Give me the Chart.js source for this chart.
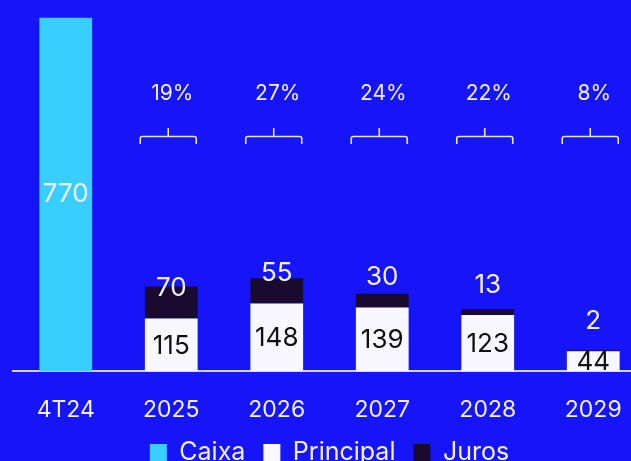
<!DOCTYPE html>
<html lang="pt">
<head>
  <meta charset="UTF-8">
  <title>Cronograma de amortização</title>
  <script src="https://cdn.jsdelivr.net/npm/chart.js"></script>
  <style>
    html, body {
      margin: 0;
      padding: 0;
      background: #1515f8;
      overflow: hidden;
    }
    .chart-wrap {
      position: relative;
      width: 646px;
      height: 494px;
    }
  </style>
</head>
<body>
  <div class="chart-wrap">
    <canvas id="debtChart"></canvas>
  </div>

  <script>
    // Dados (R$ milhões)
    const labels = ['4T24', '2025', '2026', '2027', '2028', '2029'];
    const caixa = [770, null, null, null, null, null];
    const principal = [null, 115, 148, 139, 123, 44];
    const juros = [null, 70, 55, 30, 13, 2];
    const percentuais = [null, 19, 27, 24, 22, 8];

    const FONT = 'Inter, "DejaVu Sans", sans-serif';
    const WHITE = '#f2f0ff';

    // Sobe a legenda para perto dos rótulos do eixo
    const legendShift = {
      id: 'legendShift',
      afterLayout(chart) {
        chart.legend.top -= 19;
        chart.legend.bottom -= 19;
      }
    };

    // Rótulos de valor e chaves com percentual
    const labelsPlugin = {
      id: 'valueLabels',
      afterDatasetsDraw(chart) {
        const ctx = chart.ctx;
        const metaCaixa = chart.getDatasetMeta(0);
        const metaPrin = chart.getDatasetMeta(1);
        ctx.save();
        ctx.textAlign = 'center';
        ctx.textBaseline = 'middle';
        ctx.font = '26px ' + FONT;

        caixa.forEach((v, i) => {
          if (v == null) return;
          const bar = metaCaixa.data[i];
          ctx.fillStyle = WHITE;
          ctx.fillText(v, bar.x, (bar.y + bar.base) / 2);
        });

        principal.forEach((v, i) => {
          if (v == null) return;
          const bar = metaPrin.data[i];
          ctx.fillStyle = '#111111';
          ctx.fillText(v, bar.x, (bar.y + bar.base) / 2 + 1);
        });

        juros.forEach((v, i) => {
          if (v == null) return;
          const bar = metaPrin.data[i];
          ctx.fillStyle = WHITE;
          ctx.fillText(v, bar.x, bar.y - 30);
        });

        // chaves
        ctx.font = '21px ' + FONT;
        ctx.strokeStyle = '#e6e6ff';
        ctx.lineWidth = 1.6;
        percentuais.forEach((p, i) => {
          if (p == null) return;
          const bar = metaPrin.data[i];
          const cx = bar.x - 3;
          const half = 28;
          const yl = 136.5;
          ctx.fillStyle = WHITE;
          ctx.fillText(p + '%', bar.x + 1, 94);
          ctx.beginPath();
          ctx.moveTo(cx - half, 144);
          ctx.lineTo(cx - half, yl + 2);
          ctx.quadraticCurveTo(cx - half, yl, cx - half + 2, yl);
          ctx.lineTo(cx + half - 2, yl);
          ctx.quadraticCurveTo(cx + half, yl, cx + half, yl + 2);
          ctx.lineTo(cx + half, 144);
          ctx.moveTo(cx, yl);
          ctx.lineTo(cx, 128);
          ctx.stroke();
        });
        ctx.restore();
      }
    };

    new Chart(document.getElementById('debtChart'), {
      type: 'bar',
      data: {
        labels: labels,
        datasets: [
          { label: 'Caixa', data: caixa, backgroundColor: '#38cfff' },
          { label: 'Principal', data: principal, backgroundColor: '#faf8ff' },
          { label: 'Juros', data: juros, backgroundColor: '#1a0b2e' }
        ]
      },
      options: {
        responsive: true,
        maintainAspectRatio: false,
        animation: false,
        datasets: {
          bar: { barPercentage: 0.5, categoryPercentage: 1, borderWidth: 0 }
        },
        layout: { padding: { left: 13, right: 0, top: 4, bottom: 0 } },
        scales: {
          x: {
            stacked: true,
            grid: { display: false },
            border: { color: '#d2d2d8', width: 2 },
            ticks: { color: WHITE, padding: 17, font: { family: FONT, size: 23 } }
          },
          y: {
            stacked: true,
            display: false,
            min: 0,
            max: 800
          }
        },
        plugins: {
          tooltip: { enabled: false },
          legend: {
            position: 'bottom',
            labels: {
              color: WHITE,
              boxWidth: 17,
              boxHeight: 17,
              padding: 18,
              font: { family: FONT, size: 25 }
            }
          }
        }
      },
      plugins: [legendShift, labelsPlugin]
    });
  </script>
</body>
</html>
